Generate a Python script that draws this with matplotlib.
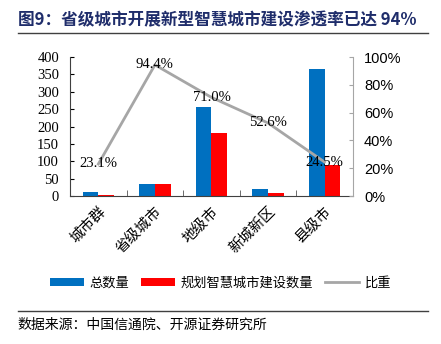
import matplotlib
matplotlib.use("Agg")
import matplotlib.pyplot as plt
import numpy as np

plt.rcParams['font.family'] = ['Liberation Serif', 'Noto Sans CJK SC']

categories = ['城市群', '省级城市', '地级市', '新城新区', '县级市']
total = [13, 36, 256, 19, 366]
planned = [3, 34, 182, 10, 90]
ratio = [23.1, 94.4, 71.0, 52.6, 24.5]

title = '图9：省级城市开展新型智慧城市建设渗透率已达 94%'
source = '数据来源：中国信通院、开源证券研究所'

cjk = ['Noto Sans CJK SC']
blue, red, gray = '#0070C0', '#FF0000', '#A6A6A6'

fig = plt.figure(figsize=(4.41, 3.44), dpi=100)
ax = fig.add_axes([0.159, 0.430, 0.641, 0.404])
ax2 = ax.twinx()

x = np.arange(len(categories))
w = 0.28
b1 = ax.bar(x - w / 2, total, w, color=blue, label='总数量')
b2 = ax.bar(x + w / 2, planned, w, color=red, label='规划智慧城市建设数量')
ax.set_ylim(0, 400)
ax.set_xlim(-0.5, len(categories) - 0.5)
ax.set_yticks(range(0, 401, 50))
ax.tick_params(axis='y', direction='in', length=3, labelsize=10.5, pad=8)
ax.set_xticks(x)
ax.set_xticklabels(categories, rotation=45, ha='right', rotation_mode='anchor',
                   fontsize=10.5, family=cjk)
ax.tick_params(axis='x', length=0, pad=6)
ax.set_xticks(np.arange(-0.5, len(categories), 1), minor=True)
ax.tick_params(axis='x', which='minor', direction='in', length=4, color='#555555')
for s in ['top', 'right']:
    ax.spines[s].set_visible(False)
ax.spines['left'].set_color('#404040')
ax.spines['bottom'].set_color('#404040')

r = np.array(ratio) / 100
ln, = ax2.plot(x, r, color=gray, lw=2, label='比重')
for xi, ri in zip(x, ratio):
    ax2.text(xi, ri / 100, f'{ri:.1f}%', ha='center', va='center', fontsize=10.5)
ax2.set_ylim(0, 1)
ax2.set_yticks(np.arange(0, 1.01, 0.2))
ax2.set_yticklabels([f'{int(v * 100)}%' for v in np.arange(0, 1.01, 0.2)],
                    family='Liberation Sans', fontsize=10.5)
ax2.tick_params(axis='y', direction='in', length=3, color=gray, pad=8)
for s in ['top', 'left', 'bottom']:
    ax2.spines[s].set_visible(False)
ax2.spines['right'].set_color(gray)

leg = fig.legend(handles=[b1, b2, ln], loc='center', bbox_to_anchor=(0.5, 0.177),
                 ncol=3, frameon=False, prop={'family': cjk, 'size': 9.5},
                 handlelength=2.6, handleheight=0.6, handletextpad=0.4, columnspacing=0.9)

fig.text(0.04, 0.942, title, fontsize=12, fontweight='bold', color='#1F2D6B',
         family=cjk, va='center')
fig.add_artist(plt.Line2D([0.04, 0.97], [0.903, 0.903], color='#404040', lw=1))
fig.add_artist(plt.Line2D([0.04, 0.97], [0.097, 0.097], color='#404040', lw=1))
fig.text(0.04, 0.055, source, fontsize=10, family=cjk, va='center')

fig.savefig('out.png', dpi=100)
